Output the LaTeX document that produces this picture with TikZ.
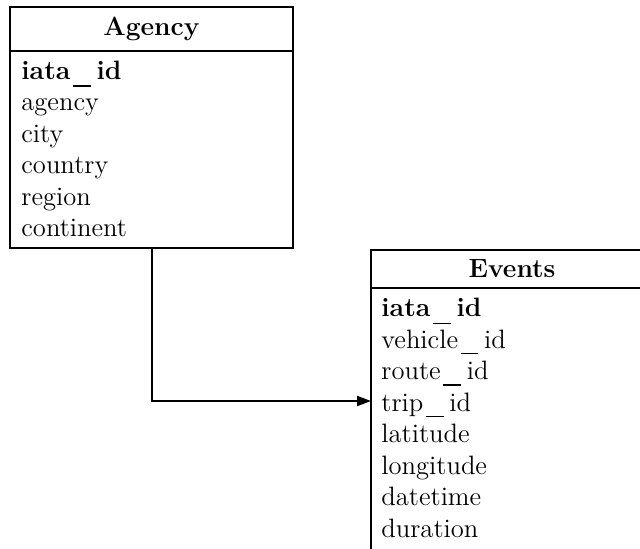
\documentclass[tikz,border=0pt]{standalone}
\usepackage{amsmath}
\usepackage{xcolor}
\usepackage{tikz}
\usetikzlibrary{arrows.meta}

%% spaced underscore as in the field names
\newcommand{\usc}[1][-0.24em]{\kern0.1em\rule[#1]{0.66em}{0.06em}\kern0.22em}

\begin{document}
\begin{tikzpicture}[x=0.5pt,y=-0.5pt,
        tablebox/.style={draw,line width=1pt,inner sep=0pt,outer sep=0pt,anchor=north west,
            font=\fontsize{13.2}{15}\selectfont\bfseries},
        field/.style={inner sep=0pt,anchor=base west,font=\fontsize{13.3}{15}\selectfont},
        fk/.style={line width=1pt,-{Triangle[length=7pt,width=5pt]}}]
        \useasboundingbox (0,0) rectangle (640,548);
        \clip (0,0) rectangle (640,548);
        
        %% Agency table
        \node [tablebox,minimum width=141.5pt,minimum height=22pt] (agency-head) at (10,7) {Agency};
        \node [tablebox,minimum width=141.5pt,minimum height=98.5pt] (agency-body) at (agency-head.south west) {};
        
        \node [field] (agency-iata) at (21,79) {\textbf{iata\usc[-0.3em]id}};
        \node [field] (agency-agency) at (21,110.5) {agency};
        \node [field] (agency-city) at (21,142) {city};
        \node [field] (agency-country) at (21,173.5) {country};
        \node [field] (agency-region) at (21,205) {region};
        \node [field] (agency-continent) at (21,236.5) {continent};
        
        %% Events table (runs off the page)
        \node [tablebox,minimum width=141pt,minimum height=19pt] (events-head) at (371,250) {Events};
        \node [tablebox,minimum width=141pt,minimum height=131pt] (events-body) at (events-head.south west) {};
        
        \node [field] (events-iata) at (381,316.5) {\textbf{iata\usc[-0.3em]id}};
        \node [field] (events-vehicle) at (381,348) {vehicle\usc id};
        \node [field] (events-route) at (381,379.5) {route\usc id};
        \node [field] (events-trip) at (381,411) {trip\usc id};
        \node [field] (events-lat) at (381,442.5) {latitude};
        \node [field] (events-lon) at (381,474) {longitude};
        \node [field] (events-time) at (381,505.5) {datetime};
        \node [field] (events-dur) at (381,537) {duration};
        
        %% Foreign key
        \coordinate (trip-in) at (events-body.west |- 0,401);
        \draw [fk] (agency-body.south) |- (trip-in);
    \end{tikzpicture}
\end{document}
